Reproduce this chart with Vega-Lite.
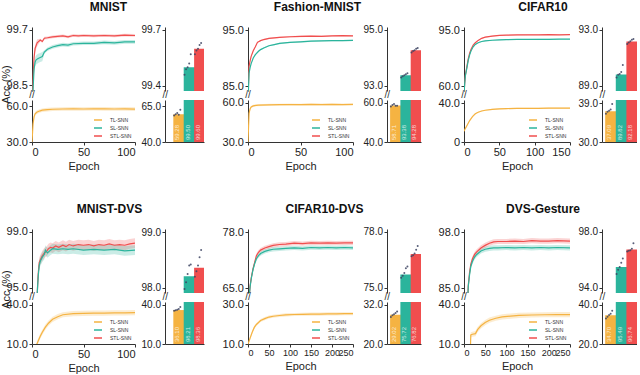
{
"$schema": "https://vega.github.io/schema/vega-lite/v6.json",
"padding": {"left": 0, "top": 0, "right": 0, "bottom": 0},
"background": "white",
"datasets": {
"curves": [
{"d":"MNIST","m":"STL-SNN","e":0,"v":98.0,"lo":97.92,"hi":98.08},
{"d":"MNIST","m":"STL-SNN","e":1,"v":98.6,"lo":98.52,"hi":98.68},
{"d":"MNIST","m":"STL-SNN","e":2,"v":99.1,"lo":99.02,"hi":99.18},
{"d":"MNIST","m":"STL-SNN","e":3,"v":99.3,"lo":99.22,"hi":99.38},
{"d":"MNIST","m":"STL-SNN","e":5,"v":99.42,"lo":99.34,"hi":99.5},
{"d":"MNIST","m":"STL-SNN","e":8,"v":99.48,"lo":99.45,"hi":99.51},
{"d":"MNIST","m":"STL-SNN","e":10,"v":99.45,"lo":99.42,"hi":99.48},
{"d":"MNIST","m":"STL-SNN","e":12,"v":99.52,"lo":99.49,"hi":99.55},
{"d":"MNIST","m":"STL-SNN","e":15,"v":99.53,"lo":99.5,"hi":99.56},
{"d":"MNIST","m":"STL-SNN","e":20,"v":99.55,"lo":99.52,"hi":99.58},
{"d":"MNIST","m":"STL-SNN","e":25,"v":99.56,"lo":99.53,"hi":99.59},
{"d":"MNIST","m":"STL-SNN","e":30,"v":99.57,"lo":99.54,"hi":99.6},
{"d":"MNIST","m":"STL-SNN","e":35,"v":99.55,"lo":99.52,"hi":99.58},
{"d":"MNIST","m":"STL-SNN","e":40,"v":99.58,"lo":99.55,"hi":99.61},
{"d":"MNIST","m":"STL-SNN","e":45,"v":99.57,"lo":99.54,"hi":99.6},
{"d":"MNIST","m":"STL-SNN","e":50,"v":99.58,"lo":99.55,"hi":99.61},
{"d":"MNIST","m":"STL-SNN","e":60,"v":99.57,"lo":99.54,"hi":99.6},
{"d":"MNIST","m":"STL-SNN","e":70,"v":99.58,"lo":99.55,"hi":99.61},
{"d":"MNIST","m":"STL-SNN","e":80,"v":99.57,"lo":99.54,"hi":99.6},
{"d":"MNIST","m":"STL-SNN","e":90,"v":99.59,"lo":99.56,"hi":99.62},
{"d":"MNIST","m":"STL-SNN","e":100,"v":99.58,"lo":99.55,"hi":99.61},
{"d":"MNIST","m":"SL-SNN","e":0,"v":97.8,"lo":97.7,"hi":97.9},
{"d":"MNIST","m":"SL-SNN","e":1,"v":98.4,"lo":98.3,"hi":98.5},
{"d":"MNIST","m":"SL-SNN","e":2,"v":98.85,"lo":98.75,"hi":98.95},
{"d":"MNIST","m":"SL-SNN","e":3,"v":99.0,"lo":98.9,"hi":99.1},
{"d":"MNIST","m":"SL-SNN","e":4,"v":99.05,"lo":98.95,"hi":99.15},
{"d":"MNIST","m":"SL-SNN","e":6,"v":99.08,"lo":98.98,"hi":99.18},
{"d":"MNIST","m":"SL-SNN","e":8,"v":99.1,"lo":99.0,"hi":99.2},
{"d":"MNIST","m":"SL-SNN","e":10,"v":99.12,"lo":99.02,"hi":99.22},
{"d":"MNIST","m":"SL-SNN","e":12,"v":99.22,"lo":99.18,"hi":99.26},
{"d":"MNIST","m":"SL-SNN","e":15,"v":99.28,"lo":99.24,"hi":99.32},
{"d":"MNIST","m":"SL-SNN","e":20,"v":99.33,"lo":99.29,"hi":99.37},
{"d":"MNIST","m":"SL-SNN","e":25,"v":99.36,"lo":99.32,"hi":99.4},
{"d":"MNIST","m":"SL-SNN","e":30,"v":99.38,"lo":99.34,"hi":99.42},
{"d":"MNIST","m":"SL-SNN","e":35,"v":99.37,"lo":99.33,"hi":99.41},
{"d":"MNIST","m":"SL-SNN","e":40,"v":99.4,"lo":99.36,"hi":99.44},
{"d":"MNIST","m":"SL-SNN","e":50,"v":99.41,"lo":99.37,"hi":99.45},
{"d":"MNIST","m":"SL-SNN","e":60,"v":99.41,"lo":99.37,"hi":99.45},
{"d":"MNIST","m":"SL-SNN","e":70,"v":99.43,"lo":99.39,"hi":99.47},
{"d":"MNIST","m":"SL-SNN","e":80,"v":99.42,"lo":99.38,"hi":99.46},
{"d":"MNIST","m":"SL-SNN","e":90,"v":99.44,"lo":99.4,"hi":99.48},
{"d":"MNIST","m":"SL-SNN","e":100,"v":99.44,"lo":99.4,"hi":99.48},
{"d":"MNIST","m":"TL-SNN","e":0,"v":30,"lo":28.5,"hi":31.5},
{"d":"MNIST","m":"TL-SNN","e":1,"v":45,"lo":43.5,"hi":46.5},
{"d":"MNIST","m":"TL-SNN","e":2,"v":51,"lo":49.5,"hi":52.5},
{"d":"MNIST","m":"TL-SNN","e":3,"v":53.5,"lo":52,"hi":55},
{"d":"MNIST","m":"TL-SNN","e":5,"v":55,"lo":53.5,"hi":56.5},
{"d":"MNIST","m":"TL-SNN","e":8,"v":56,"lo":54.5,"hi":57.5},
{"d":"MNIST","m":"TL-SNN","e":10,"v":56.5,"lo":55,"hi":58},
{"d":"MNIST","m":"TL-SNN","e":15,"v":57,"lo":55.5,"hi":58.5},
{"d":"MNIST","m":"TL-SNN","e":20,"v":57.3,"lo":55.8,"hi":58.8},
{"d":"MNIST","m":"TL-SNN","e":30,"v":57.5,"lo":56,"hi":59},
{"d":"MNIST","m":"TL-SNN","e":40,"v":57.6,"lo":56.1,"hi":59.1},
{"d":"MNIST","m":"TL-SNN","e":50,"v":57.5,"lo":56,"hi":59},
{"d":"MNIST","m":"TL-SNN","e":60,"v":57.7,"lo":56.2,"hi":59.2},
{"d":"MNIST","m":"TL-SNN","e":70,"v":57.6,"lo":56.1,"hi":59.1},
{"d":"MNIST","m":"TL-SNN","e":80,"v":57.5,"lo":56,"hi":59},
{"d":"MNIST","m":"TL-SNN","e":90,"v":57.6,"lo":56.1,"hi":59.1},
{"d":"MNIST","m":"TL-SNN","e":100,"v":57.4,"lo":55.9,"hi":58.9},
{"d":"FMNIST","m":"STL-SNN","e":0,"v":83,"lo":82.88,"hi":83.12},
{"d":"FMNIST","m":"STL-SNN","e":1,"v":88.5,"lo":88.38,"hi":88.62},
{"d":"FMNIST","m":"STL-SNN","e":2,"v":89.5,"lo":89.38,"hi":89.62},
{"d":"FMNIST","m":"STL-SNN","e":3,"v":90.3,"lo":90.18,"hi":90.42},
{"d":"FMNIST","m":"STL-SNN","e":5,"v":91.3,"lo":91.18,"hi":91.42},
{"d":"FMNIST","m":"STL-SNN","e":7,"v":92.0,"lo":91.88,"hi":92.12},
{"d":"FMNIST","m":"STL-SNN","e":9,"v":92.8,"lo":92.68,"hi":92.92},
{"d":"FMNIST","m":"STL-SNN","e":12,"v":93.1,"lo":92.98,"hi":93.22},
{"d":"FMNIST","m":"STL-SNN","e":15,"v":93.3,"lo":93.18,"hi":93.42},
{"d":"FMNIST","m":"STL-SNN","e":20,"v":93.5,"lo":93.38,"hi":93.62},
{"d":"FMNIST","m":"STL-SNN","e":25,"v":93.6,"lo":93.48,"hi":93.72},
{"d":"FMNIST","m":"STL-SNN","e":30,"v":93.7,"lo":93.58,"hi":93.82},
{"d":"FMNIST","m":"STL-SNN","e":40,"v":93.8,"lo":93.68,"hi":93.92},
{"d":"FMNIST","m":"STL-SNN","e":50,"v":93.85,"lo":93.73,"hi":93.97},
{"d":"FMNIST","m":"STL-SNN","e":60,"v":93.9,"lo":93.78,"hi":94.02},
{"d":"FMNIST","m":"STL-SNN","e":70,"v":93.88,"lo":93.76,"hi":94.0},
{"d":"FMNIST","m":"STL-SNN","e":80,"v":93.95,"lo":93.83,"hi":94.07},
{"d":"FMNIST","m":"STL-SNN","e":90,"v":94.0,"lo":93.88,"hi":94.12},
{"d":"FMNIST","m":"STL-SNN","e":100,"v":93.95,"lo":93.83,"hi":94.07},
{"d":"FMNIST","m":"SL-SNN","e":0,"v":82,"lo":81.88,"hi":82.12},
{"d":"FMNIST","m":"SL-SNN","e":1,"v":87.3,"lo":87.18,"hi":87.42},
{"d":"FMNIST","m":"SL-SNN","e":2,"v":88.3,"lo":88.18,"hi":88.42},
{"d":"FMNIST","m":"SL-SNN","e":3,"v":89.0,"lo":88.88,"hi":89.12},
{"d":"FMNIST","m":"SL-SNN","e":5,"v":90.0,"lo":89.88,"hi":90.12},
{"d":"FMNIST","m":"SL-SNN","e":7,"v":90.6,"lo":90.48,"hi":90.72},
{"d":"FMNIST","m":"SL-SNN","e":10,"v":91.2,"lo":91.08,"hi":91.32},
{"d":"FMNIST","m":"SL-SNN","e":12,"v":91.5,"lo":91.38,"hi":91.62},
{"d":"FMNIST","m":"SL-SNN","e":15,"v":91.8,"lo":91.68,"hi":91.92},
{"d":"FMNIST","m":"SL-SNN","e":20,"v":92.2,"lo":92.08,"hi":92.32},
{"d":"FMNIST","m":"SL-SNN","e":25,"v":92.4,"lo":92.28,"hi":92.52},
{"d":"FMNIST","m":"SL-SNN","e":30,"v":92.6,"lo":92.48,"hi":92.72},
{"d":"FMNIST","m":"SL-SNN","e":40,"v":92.8,"lo":92.68,"hi":92.92},
{"d":"FMNIST","m":"SL-SNN","e":50,"v":92.9,"lo":92.78,"hi":93.02},
{"d":"FMNIST","m":"SL-SNN","e":60,"v":93.0,"lo":92.88,"hi":93.12},
{"d":"FMNIST","m":"SL-SNN","e":70,"v":93.05,"lo":92.93,"hi":93.17},
{"d":"FMNIST","m":"SL-SNN","e":80,"v":93.1,"lo":92.98,"hi":93.22},
{"d":"FMNIST","m":"SL-SNN","e":90,"v":93.1,"lo":92.98,"hi":93.22},
{"d":"FMNIST","m":"SL-SNN","e":100,"v":93.15,"lo":93.03,"hi":93.27},
{"d":"FMNIST","m":"TL-SNN","e":0,"v":30,"lo":29.2,"hi":30.8},
{"d":"FMNIST","m":"TL-SNN","e":1,"v":52,"lo":51.2,"hi":52.8},
{"d":"FMNIST","m":"TL-SNN","e":2,"v":55.5,"lo":54.7,"hi":56.3},
{"d":"FMNIST","m":"TL-SNN","e":3,"v":57,"lo":56.2,"hi":57.8},
{"d":"FMNIST","m":"TL-SNN","e":5,"v":57.8,"lo":57,"hi":58.6},
{"d":"FMNIST","m":"TL-SNN","e":8,"v":58.2,"lo":57.4,"hi":59},
{"d":"FMNIST","m":"TL-SNN","e":10,"v":58.3,"lo":57.5,"hi":59.1},
{"d":"FMNIST","m":"TL-SNN","e":20,"v":58.6,"lo":57.8,"hi":59.4},
{"d":"FMNIST","m":"TL-SNN","e":30,"v":58.7,"lo":57.9,"hi":59.5},
{"d":"FMNIST","m":"TL-SNN","e":40,"v":58.8,"lo":58,"hi":59.6},
{"d":"FMNIST","m":"TL-SNN","e":50,"v":58.7,"lo":57.9,"hi":59.5},
{"d":"FMNIST","m":"TL-SNN","e":60,"v":58.9,"lo":58.1,"hi":59.7},
{"d":"FMNIST","m":"TL-SNN","e":70,"v":58.8,"lo":58,"hi":59.6},
{"d":"FMNIST","m":"TL-SNN","e":80,"v":58.9,"lo":58.1,"hi":59.7},
{"d":"FMNIST","m":"TL-SNN","e":90,"v":58.8,"lo":58,"hi":59.6},
{"d":"FMNIST","m":"TL-SNN","e":100,"v":58.9,"lo":58.1,"hi":59.7},
{"d":"CIFAR10","m":"STL-SNN","e":0,"v":55,"lo":54.7,"hi":55.3},
{"d":"CIFAR10","m":"STL-SNN","e":1,"v":62,"lo":61.7,"hi":62.3},
{"d":"CIFAR10","m":"STL-SNN","e":2,"v":67,"lo":66.7,"hi":67.3},
{"d":"CIFAR10","m":"STL-SNN","e":4,"v":72,"lo":71.7,"hi":72.3},
{"d":"CIFAR10","m":"STL-SNN","e":6,"v":77,"lo":76.7,"hi":77.3},
{"d":"CIFAR10","m":"STL-SNN","e":8,"v":80.5,"lo":80.2,"hi":80.8},
{"d":"CIFAR10","m":"STL-SNN","e":10,"v":83,"lo":82.7,"hi":83.3},
{"d":"CIFAR10","m":"STL-SNN","e":13,"v":85.5,"lo":85.2,"hi":85.8},
{"d":"CIFAR10","m":"STL-SNN","e":16,"v":87,"lo":86.7,"hi":87.3},
{"d":"CIFAR10","m":"STL-SNN","e":20,"v":88.5,"lo":88.2,"hi":88.8},
{"d":"CIFAR10","m":"STL-SNN","e":25,"v":89.8,"lo":89.5,"hi":90.1},
{"d":"CIFAR10","m":"STL-SNN","e":30,"v":90.5,"lo":90.2,"hi":90.8},
{"d":"CIFAR10","m":"STL-SNN","e":40,"v":91.2,"lo":90.9,"hi":91.5},
{"d":"CIFAR10","m":"STL-SNN","e":50,"v":91.6,"lo":91.3,"hi":91.9},
{"d":"CIFAR10","m":"STL-SNN","e":60,"v":91.8,"lo":91.5,"hi":92.1},
{"d":"CIFAR10","m":"STL-SNN","e":75,"v":91.9,"lo":91.6,"hi":92.2},
{"d":"CIFAR10","m":"STL-SNN","e":90,"v":92.0,"lo":91.7,"hi":92.3},
{"d":"CIFAR10","m":"STL-SNN","e":105,"v":92.0,"lo":91.7,"hi":92.3},
{"d":"CIFAR10","m":"STL-SNN","e":120,"v":92.1,"lo":91.8,"hi":92.4},
{"d":"CIFAR10","m":"STL-SNN","e":135,"v":92.0,"lo":91.7,"hi":92.3},
{"d":"CIFAR10","m":"STL-SNN","e":150,"v":92.1,"lo":91.8,"hi":92.4},
{"d":"CIFAR10","m":"SL-SNN","e":0,"v":55,"lo":54.7,"hi":55.3},
{"d":"CIFAR10","m":"SL-SNN","e":1,"v":61.5,"lo":61.2,"hi":61.8},
{"d":"CIFAR10","m":"SL-SNN","e":2,"v":66.5,"lo":66.2,"hi":66.8},
{"d":"CIFAR10","m":"SL-SNN","e":4,"v":71,"lo":70.7,"hi":71.3},
{"d":"CIFAR10","m":"SL-SNN","e":6,"v":76,"lo":75.7,"hi":76.3},
{"d":"CIFAR10","m":"SL-SNN","e":8,"v":79.5,"lo":79.2,"hi":79.8},
{"d":"CIFAR10","m":"SL-SNN","e":10,"v":82,"lo":81.7,"hi":82.3},
{"d":"CIFAR10","m":"SL-SNN","e":13,"v":84.5,"lo":84.2,"hi":84.8},
{"d":"CIFAR10","m":"SL-SNN","e":16,"v":86,"lo":85.7,"hi":86.3},
{"d":"CIFAR10","m":"SL-SNN","e":20,"v":87,"lo":86.7,"hi":87.3},
{"d":"CIFAR10","m":"SL-SNN","e":25,"v":87.8,"lo":87.5,"hi":88.1},
{"d":"CIFAR10","m":"SL-SNN","e":30,"v":88.2,"lo":87.9,"hi":88.5},
{"d":"CIFAR10","m":"SL-SNN","e":40,"v":88.6,"lo":88.3,"hi":88.9},
{"d":"CIFAR10","m":"SL-SNN","e":50,"v":88.8,"lo":88.5,"hi":89.1},
{"d":"CIFAR10","m":"SL-SNN","e":60,"v":89.0,"lo":88.7,"hi":89.3},
{"d":"CIFAR10","m":"SL-SNN","e":75,"v":89.1,"lo":88.8,"hi":89.4},
{"d":"CIFAR10","m":"SL-SNN","e":90,"v":89.1,"lo":88.8,"hi":89.4},
{"d":"CIFAR10","m":"SL-SNN","e":105,"v":89.2,"lo":88.9,"hi":89.5},
{"d":"CIFAR10","m":"SL-SNN","e":120,"v":89.2,"lo":88.9,"hi":89.5},
{"d":"CIFAR10","m":"SL-SNN","e":135,"v":89.3,"lo":89.0,"hi":89.6},
{"d":"CIFAR10","m":"SL-SNN","e":150,"v":89.3,"lo":89.0,"hi":89.6},
{"d":"CIFAR10","m":"TL-SNN","e":0,"v":11,"lo":10.4,"hi":11.6},
{"d":"CIFAR10","m":"TL-SNN","e":2,"v":14,"lo":13.4,"hi":14.6},
{"d":"CIFAR10","m":"TL-SNN","e":5,"v":18,"lo":17.4,"hi":18.6},
{"d":"CIFAR10","m":"TL-SNN","e":8,"v":22,"lo":21.4,"hi":22.6},
{"d":"CIFAR10","m":"TL-SNN","e":12,"v":26,"lo":25.4,"hi":26.6},
{"d":"CIFAR10","m":"TL-SNN","e":16,"v":29,"lo":28.4,"hi":29.6},
{"d":"CIFAR10","m":"TL-SNN","e":20,"v":30.5,"lo":29.9,"hi":31.1},
{"d":"CIFAR10","m":"TL-SNN","e":25,"v":31.8,"lo":31.2,"hi":32.4},
{"d":"CIFAR10","m":"TL-SNN","e":30,"v":32.6,"lo":32.0,"hi":33.2},
{"d":"CIFAR10","m":"TL-SNN","e":40,"v":33.5,"lo":32.9,"hi":34.1},
{"d":"CIFAR10","m":"TL-SNN","e":50,"v":34.0,"lo":33.4,"hi":34.6},
{"d":"CIFAR10","m":"TL-SNN","e":60,"v":34.3,"lo":33.7,"hi":34.9},
{"d":"CIFAR10","m":"TL-SNN","e":75,"v":34.5,"lo":33.9,"hi":35.1},
{"d":"CIFAR10","m":"TL-SNN","e":90,"v":34.6,"lo":34.0,"hi":35.2},
{"d":"CIFAR10","m":"TL-SNN","e":105,"v":34.6,"lo":34.0,"hi":35.2},
{"d":"CIFAR10","m":"TL-SNN","e":120,"v":34.7,"lo":34.1,"hi":35.3},
{"d":"CIFAR10","m":"TL-SNN","e":135,"v":34.7,"lo":34.1,"hi":35.3},
{"d":"CIFAR10","m":"TL-SNN","e":150,"v":34.7,"lo":34.1,"hi":35.3},
{"d":"MDVS","m":"STL-SNN","e":0,"v":92,"lo":91.65,"hi":92.35},
{"d":"MDVS","m":"STL-SNN","e":3,"v":93,"lo":92.65,"hi":93.35},
{"d":"MDVS","m":"STL-SNN","e":5,"v":94.5,"lo":94.15,"hi":94.85},
{"d":"MDVS","m":"STL-SNN","e":6,"v":96.0,"lo":95.65,"hi":96.35},
{"d":"MDVS","m":"STL-SNN","e":7,"v":96.8,"lo":96.45,"hi":97.15},
{"d":"MDVS","m":"STL-SNN","e":8,"v":97.0,"lo":96.65,"hi":97.35},
{"d":"MDVS","m":"STL-SNN","e":10,"v":97.3,"lo":96.95,"hi":97.65},
{"d":"MDVS","m":"STL-SNN","e":12,"v":97.5,"lo":97.15,"hi":97.85},
{"d":"MDVS","m":"STL-SNN","e":14,"v":97.6,"lo":97.25,"hi":97.95},
{"d":"MDVS","m":"STL-SNN","e":16,"v":97.8,"lo":97.45,"hi":98.15},
{"d":"MDVS","m":"STL-SNN","e":18,"v":97.9,"lo":97.55,"hi":98.25},
{"d":"MDVS","m":"STL-SNN","e":20,"v":97.85,"lo":97.5,"hi":98.2},
{"d":"MDVS","m":"STL-SNN","e":23,"v":98.0,"lo":97.65,"hi":98.35},
{"d":"MDVS","m":"STL-SNN","e":26,"v":97.9,"lo":97.55,"hi":98.25},
{"d":"MDVS","m":"STL-SNN","e":30,"v":98.05,"lo":97.7,"hi":98.4},
{"d":"MDVS","m":"STL-SNN","e":33,"v":97.95,"lo":97.6,"hi":98.3},
{"d":"MDVS","m":"STL-SNN","e":36,"v":98.1,"lo":97.75,"hi":98.45},
{"d":"MDVS","m":"STL-SNN","e":40,"v":98.0,"lo":97.65,"hi":98.35},
{"d":"MDVS","m":"STL-SNN","e":45,"v":98.1,"lo":97.75,"hi":98.45},
{"d":"MDVS","m":"STL-SNN","e":50,"v":98.05,"lo":97.7,"hi":98.4},
{"d":"MDVS","m":"STL-SNN","e":55,"v":98.1,"lo":97.75,"hi":98.45},
{"d":"MDVS","m":"STL-SNN","e":60,"v":98.0,"lo":97.65,"hi":98.35},
{"d":"MDVS","m":"STL-SNN","e":65,"v":98.1,"lo":97.75,"hi":98.45},
{"d":"MDVS","m":"STL-SNN","e":70,"v":98.05,"lo":97.7,"hi":98.4},
{"d":"MDVS","m":"STL-SNN","e":75,"v":98.15,"lo":97.8,"hi":98.5},
{"d":"MDVS","m":"STL-SNN","e":80,"v":98.05,"lo":97.7,"hi":98.4},
{"d":"MDVS","m":"STL-SNN","e":85,"v":98.1,"lo":97.75,"hi":98.45},
{"d":"MDVS","m":"STL-SNN","e":90,"v":98.05,"lo":97.7,"hi":98.4},
{"d":"MDVS","m":"STL-SNN","e":95,"v":98.15,"lo":97.8,"hi":98.5},
{"d":"MDVS","m":"STL-SNN","e":100,"v":98.2,"lo":97.85,"hi":98.55},
{"d":"MDVS","m":"SL-SNN","e":0,"v":92,"lo":91.65,"hi":92.35},
{"d":"MDVS","m":"SL-SNN","e":3,"v":93,"lo":92.65,"hi":93.35},
{"d":"MDVS","m":"SL-SNN","e":5,"v":94.5,"lo":94.15,"hi":94.85},
{"d":"MDVS","m":"SL-SNN","e":6,"v":95.8,"lo":95.45,"hi":96.15},
{"d":"MDVS","m":"SL-SNN","e":7,"v":96.6,"lo":96.25,"hi":96.95},
{"d":"MDVS","m":"SL-SNN","e":8,"v":96.9,"lo":96.55,"hi":97.25},
{"d":"MDVS","m":"SL-SNN","e":10,"v":97.2,"lo":96.85,"hi":97.55},
{"d":"MDVS","m":"SL-SNN","e":12,"v":97.4,"lo":97.05,"hi":97.75},
{"d":"MDVS","m":"SL-SNN","e":13,"v":97.7,"lo":97.35,"hi":98.05},
{"d":"MDVS","m":"SL-SNN","e":15,"v":97.5,"lo":97.15,"hi":97.85},
{"d":"MDVS","m":"SL-SNN","e":18,"v":97.7,"lo":97.35,"hi":98.05},
{"d":"MDVS","m":"SL-SNN","e":20,"v":97.8,"lo":97.45,"hi":98.15},
{"d":"MDVS","m":"SL-SNN","e":25,"v":97.75,"lo":97.4,"hi":98.1},
{"d":"MDVS","m":"SL-SNN","e":30,"v":97.8,"lo":97.45,"hi":98.15},
{"d":"MDVS","m":"SL-SNN","e":35,"v":97.75,"lo":97.4,"hi":98.1},
{"d":"MDVS","m":"SL-SNN","e":40,"v":97.8,"lo":97.45,"hi":98.15},
{"d":"MDVS","m":"SL-SNN","e":50,"v":97.7,"lo":97.35,"hi":98.05},
{"d":"MDVS","m":"SL-SNN","e":60,"v":97.75,"lo":97.4,"hi":98.1},
{"d":"MDVS","m":"SL-SNN","e":70,"v":97.7,"lo":97.35,"hi":98.05},
{"d":"MDVS","m":"SL-SNN","e":80,"v":97.75,"lo":97.4,"hi":98.1},
{"d":"MDVS","m":"SL-SNN","e":90,"v":97.65,"lo":97.3,"hi":98.0},
{"d":"MDVS","m":"SL-SNN","e":100,"v":97.7,"lo":97.35,"hi":98.05},
{"d":"MDVS","m":"TL-SNN","e":0,"v":5,"lo":3,"hi":7},
{"d":"MDVS","m":"TL-SNN","e":4,"v":8,"lo":6,"hi":10},
{"d":"MDVS","m":"TL-SNN","e":5,"v":10.5,"lo":8.5,"hi":12.5},
{"d":"MDVS","m":"TL-SNN","e":8,"v":16,"lo":14,"hi":18},
{"d":"MDVS","m":"TL-SNN","e":10,"v":19,"lo":17,"hi":21},
{"d":"MDVS","m":"TL-SNN","e":13,"v":23,"lo":21,"hi":25},
{"d":"MDVS","m":"TL-SNN","e":16,"v":26,"lo":24,"hi":28},
{"d":"MDVS","m":"TL-SNN","e":20,"v":29,"lo":27,"hi":31},
{"d":"MDVS","m":"TL-SNN","e":25,"v":31,"lo":29,"hi":33},
{"d":"MDVS","m":"TL-SNN","e":30,"v":32.5,"lo":30.5,"hi":34.5},
{"d":"MDVS","m":"TL-SNN","e":40,"v":33.3,"lo":31.3,"hi":35.3},
{"d":"MDVS","m":"TL-SNN","e":50,"v":33.6,"lo":31.6,"hi":35.6},
{"d":"MDVS","m":"TL-SNN","e":60,"v":33.8,"lo":31.8,"hi":35.8},
{"d":"MDVS","m":"TL-SNN","e":70,"v":33.8,"lo":31.8,"hi":35.8},
{"d":"MDVS","m":"TL-SNN","e":80,"v":34.0,"lo":32.0,"hi":36.0},
{"d":"MDVS","m":"TL-SNN","e":90,"v":33.9,"lo":31.9,"hi":35.9},
{"d":"MDVS","m":"TL-SNN","e":100,"v":34.1,"lo":32.1,"hi":36.1},
{"d":"CDVS","m":"STL-SNN","e":0,"v":60,"lo":59.5,"hi":60.5},
{"d":"CDVS","m":"STL-SNN","e":3,"v":63,"lo":62.5,"hi":63.5},
{"d":"CDVS","m":"STL-SNN","e":5,"v":65.5,"lo":65,"hi":66},
{"d":"CDVS","m":"STL-SNN","e":8,"v":67.5,"lo":67,"hi":68},
{"d":"CDVS","m":"STL-SNN","e":12,"v":69.5,"lo":69,"hi":70},
{"d":"CDVS","m":"STL-SNN","e":16,"v":71,"lo":70.5,"hi":71.5},
{"d":"CDVS","m":"STL-SNN","e":20,"v":72.5,"lo":72,"hi":73},
{"d":"CDVS","m":"STL-SNN","e":25,"v":73.3,"lo":72.8,"hi":73.8},
{"d":"CDVS","m":"STL-SNN","e":30,"v":73.8,"lo":73.3,"hi":74.3},
{"d":"CDVS","m":"STL-SNN","e":40,"v":74.3,"lo":73.8,"hi":74.8},
{"d":"CDVS","m":"STL-SNN","e":50,"v":74.6,"lo":74.1,"hi":75.1},
{"d":"CDVS","m":"STL-SNN","e":60,"v":74.9,"lo":74.4,"hi":75.4},
{"d":"CDVS","m":"STL-SNN","e":75,"v":75.1,"lo":74.6,"hi":75.6},
{"d":"CDVS","m":"STL-SNN","e":90,"v":75.2,"lo":74.7,"hi":75.7},
{"d":"CDVS","m":"STL-SNN","e":110,"v":75.4,"lo":74.9,"hi":75.9},
{"d":"CDVS","m":"STL-SNN","e":130,"v":75.3,"lo":74.8,"hi":75.8},
{"d":"CDVS","m":"STL-SNN","e":150,"v":75.5,"lo":75.0,"hi":76.0},
{"d":"CDVS","m":"STL-SNN","e":170,"v":75.4,"lo":74.9,"hi":75.9},
{"d":"CDVS","m":"STL-SNN","e":190,"v":75.5,"lo":75.0,"hi":76.0},
{"d":"CDVS","m":"STL-SNN","e":210,"v":75.4,"lo":74.9,"hi":75.9},
{"d":"CDVS","m":"STL-SNN","e":230,"v":75.5,"lo":75.0,"hi":76.0},
{"d":"CDVS","m":"STL-SNN","e":250,"v":75.5,"lo":75.0,"hi":76.0},
{"d":"CDVS","m":"SL-SNN","e":0,"v":60,"lo":59.5,"hi":60.5},
{"d":"CDVS","m":"SL-SNN","e":3,"v":63,"lo":62.5,"hi":63.5},
{"d":"CDVS","m":"SL-SNN","e":5,"v":65.3,"lo":64.8,"hi":65.8},
{"d":"CDVS","m":"SL-SNN","e":8,"v":67.3,"lo":66.8,"hi":67.8},
{"d":"CDVS","m":"SL-SNN","e":12,"v":69.3,"lo":68.8,"hi":69.8},
{"d":"CDVS","m":"SL-SNN","e":16,"v":70.7,"lo":70.2,"hi":71.2},
{"d":"CDVS","m":"SL-SNN","e":20,"v":71.8,"lo":71.3,"hi":72.3},
{"d":"CDVS","m":"SL-SNN","e":25,"v":72.5,"lo":72.0,"hi":73.0},
{"d":"CDVS","m":"SL-SNN","e":30,"v":73.0,"lo":72.5,"hi":73.5},
{"d":"CDVS","m":"SL-SNN","e":40,"v":73.5,"lo":73.0,"hi":74.0},
{"d":"CDVS","m":"SL-SNN","e":50,"v":73.8,"lo":73.3,"hi":74.3},
{"d":"CDVS","m":"SL-SNN","e":60,"v":74.0,"lo":73.5,"hi":74.5},
{"d":"CDVS","m":"SL-SNN","e":75,"v":74.1,"lo":73.6,"hi":74.6},
{"d":"CDVS","m":"SL-SNN","e":90,"v":74.2,"lo":73.7,"hi":74.7},
{"d":"CDVS","m":"SL-SNN","e":110,"v":74.3,"lo":73.8,"hi":74.8},
{"d":"CDVS","m":"SL-SNN","e":130,"v":74.2,"lo":73.7,"hi":74.7},
{"d":"CDVS","m":"SL-SNN","e":150,"v":74.4,"lo":73.9,"hi":74.9},
{"d":"CDVS","m":"SL-SNN","e":170,"v":74.3,"lo":73.8,"hi":74.8},
{"d":"CDVS","m":"SL-SNN","e":190,"v":74.4,"lo":73.9,"hi":74.9},
{"d":"CDVS","m":"SL-SNN","e":210,"v":74.3,"lo":73.8,"hi":74.8},
{"d":"CDVS","m":"SL-SNN","e":230,"v":74.4,"lo":73.9,"hi":74.9},
{"d":"CDVS","m":"SL-SNN","e":250,"v":74.3,"lo":73.8,"hi":74.8},
{"d":"CDVS","m":"TL-SNN","e":0,"v":10,"lo":9.2,"hi":10.8},
{"d":"CDVS","m":"TL-SNN","e":5,"v":13,"lo":12.2,"hi":13.8},
{"d":"CDVS","m":"TL-SNN","e":10,"v":16,"lo":15.2,"hi":16.8},
{"d":"CDVS","m":"TL-SNN","e":15,"v":18.5,"lo":17.7,"hi":19.3},
{"d":"CDVS","m":"TL-SNN","e":20,"v":20,"lo":19.2,"hi":20.8},
{"d":"CDVS","m":"TL-SNN","e":30,"v":22,"lo":21.2,"hi":22.8},
{"d":"CDVS","m":"TL-SNN","e":40,"v":23,"lo":22.2,"hi":23.8},
{"d":"CDVS","m":"TL-SNN","e":50,"v":23.8,"lo":23.0,"hi":24.6},
{"d":"CDVS","m":"TL-SNN","e":60,"v":24.2,"lo":23.4,"hi":25.0},
{"d":"CDVS","m":"TL-SNN","e":75,"v":24.6,"lo":23.8,"hi":25.4},
{"d":"CDVS","m":"TL-SNN","e":90,"v":24.9,"lo":24.1,"hi":25.7},
{"d":"CDVS","m":"TL-SNN","e":110,"v":25.1,"lo":24.3,"hi":25.9},
{"d":"CDVS","m":"TL-SNN","e":130,"v":25.2,"lo":24.4,"hi":26.0},
{"d":"CDVS","m":"TL-SNN","e":150,"v":25.3,"lo":24.5,"hi":26.1},
{"d":"CDVS","m":"TL-SNN","e":170,"v":25.3,"lo":24.5,"hi":26.1},
{"d":"CDVS","m":"TL-SNN","e":190,"v":25.4,"lo":24.6,"hi":26.2},
{"d":"CDVS","m":"TL-SNN","e":210,"v":25.4,"lo":24.6,"hi":26.2},
{"d":"CDVS","m":"TL-SNN","e":230,"v":25.5,"lo":24.7,"hi":26.3},
{"d":"CDVS","m":"TL-SNN","e":250,"v":25.5,"lo":24.7,"hi":26.3},
{"d":"GEST","m":"STL-SNN","e":0,"v":75,"lo":74.4,"hi":75.6},
{"d":"GEST","m":"STL-SNN","e":8,"v":80,"lo":79.4,"hi":80.6},
{"d":"GEST","m":"STL-SNN","e":10,"v":85.5,"lo":84.9,"hi":86.1},
{"d":"GEST","m":"STL-SNN","e":13,"v":88.5,"lo":87.9,"hi":89.1},
{"d":"GEST","m":"STL-SNN","e":16,"v":90.5,"lo":89.9,"hi":91.1},
{"d":"GEST","m":"STL-SNN","e":20,"v":91.8,"lo":91.2,"hi":92.4},
{"d":"GEST","m":"STL-SNN","e":25,"v":92.8,"lo":92.2,"hi":93.4},
{"d":"GEST","m":"STL-SNN","e":30,"v":93.4,"lo":92.8,"hi":94.0},
{"d":"GEST","m":"STL-SNN","e":40,"v":94.3,"lo":93.7,"hi":94.9},
{"d":"GEST","m":"STL-SNN","e":50,"v":94.9,"lo":94.3,"hi":95.5},
{"d":"GEST","m":"STL-SNN","e":60,"v":95.4,"lo":94.8,"hi":96.0},
{"d":"GEST","m":"STL-SNN","e":70,"v":95.7,"lo":95.1,"hi":96.3},
{"d":"GEST","m":"STL-SNN","e":80,"v":95.8,"lo":95.2,"hi":96.4},
{"d":"GEST","m":"STL-SNN","e":100,"v":95.8,"lo":95.2,"hi":96.4},
{"d":"GEST","m":"STL-SNN","e":120,"v":95.9,"lo":95.3,"hi":96.5},
{"d":"GEST","m":"STL-SNN","e":140,"v":95.8,"lo":95.2,"hi":96.4},
{"d":"GEST","m":"STL-SNN","e":160,"v":96.0,"lo":95.4,"hi":96.6},
{"d":"GEST","m":"STL-SNN","e":180,"v":95.9,"lo":95.3,"hi":96.5},
{"d":"GEST","m":"STL-SNN","e":200,"v":95.9,"lo":95.3,"hi":96.5},
{"d":"GEST","m":"STL-SNN","e":220,"v":96.0,"lo":95.4,"hi":96.6},
{"d":"GEST","m":"STL-SNN","e":250,"v":95.9,"lo":95.3,"hi":96.5},
{"d":"GEST","m":"SL-SNN","e":0,"v":75,"lo":74.4,"hi":75.6},
{"d":"GEST","m":"SL-SNN","e":8,"v":80,"lo":79.4,"hi":80.6},
{"d":"GEST","m":"SL-SNN","e":10,"v":85.3,"lo":84.7,"hi":85.9},
{"d":"GEST","m":"SL-SNN","e":13,"v":88,"lo":87.4,"hi":88.6},
{"d":"GEST","m":"SL-SNN","e":16,"v":90,"lo":89.4,"hi":90.6},
{"d":"GEST","m":"SL-SNN","e":20,"v":91.2,"lo":90.6,"hi":91.8},
{"d":"GEST","m":"SL-SNN","e":25,"v":92.2,"lo":91.6,"hi":92.8},
{"d":"GEST","m":"SL-SNN","e":30,"v":92.8,"lo":92.2,"hi":93.4},
{"d":"GEST","m":"SL-SNN","e":40,"v":93.6,"lo":93.0,"hi":94.2},
{"d":"GEST","m":"SL-SNN","e":50,"v":94.0,"lo":93.4,"hi":94.6},
{"d":"GEST","m":"SL-SNN","e":60,"v":94.2,"lo":93.6,"hi":94.8},
{"d":"GEST","m":"SL-SNN","e":70,"v":94.3,"lo":93.7,"hi":94.9},
{"d":"GEST","m":"SL-SNN","e":80,"v":94.3,"lo":93.7,"hi":94.9},
{"d":"GEST","m":"SL-SNN","e":100,"v":94.4,"lo":93.8,"hi":95.0},
{"d":"GEST","m":"SL-SNN","e":120,"v":94.3,"lo":93.7,"hi":94.9},
{"d":"GEST","m":"SL-SNN","e":140,"v":94.4,"lo":93.8,"hi":95.0},
{"d":"GEST","m":"SL-SNN","e":160,"v":94.3,"lo":93.7,"hi":94.9},
{"d":"GEST","m":"SL-SNN","e":180,"v":94.4,"lo":93.8,"hi":95.0},
{"d":"GEST","m":"SL-SNN","e":200,"v":94.3,"lo":93.7,"hi":94.9},
{"d":"GEST","m":"SL-SNN","e":220,"v":94.4,"lo":93.8,"hi":95.0},
{"d":"GEST","m":"SL-SNN","e":250,"v":94.3,"lo":93.7,"hi":94.9},
{"d":"GEST","m":"TL-SNN","e":0,"v":4,"lo":2,"hi":6},
{"d":"GEST","m":"TL-SNN","e":15,"v":5,"lo":3,"hi":7},
{"d":"GEST","m":"TL-SNN","e":16,"v":17,"lo":15,"hi":19},
{"d":"GEST","m":"TL-SNN","e":20,"v":17.5,"lo":15.5,"hi":19.5},
{"d":"GEST","m":"TL-SNN","e":27,"v":18,"lo":16,"hi":20},
{"d":"GEST","m":"TL-SNN","e":32,"v":21,"lo":19,"hi":23},
{"d":"GEST","m":"TL-SNN","e":40,"v":24,"lo":22,"hi":26},
{"d":"GEST","m":"TL-SNN","e":50,"v":26.5,"lo":24.5,"hi":28.5},
{"d":"GEST","m":"TL-SNN","e":60,"v":28.3,"lo":26.3,"hi":30.3},
{"d":"GEST","m":"TL-SNN","e":75,"v":29.8,"lo":27.8,"hi":31.8},
{"d":"GEST","m":"TL-SNN","e":90,"v":30.8,"lo":28.8,"hi":32.8},
{"d":"GEST","m":"TL-SNN","e":110,"v":31.5,"lo":29.5,"hi":33.5},
{"d":"GEST","m":"TL-SNN","e":130,"v":32.0,"lo":30.0,"hi":34.0},
{"d":"GEST","m":"TL-SNN","e":160,"v":32.3,"lo":30.3,"hi":34.3},
{"d":"GEST","m":"TL-SNN","e":190,"v":32.5,"lo":30.5,"hi":34.5},
{"d":"GEST","m":"TL-SNN","e":220,"v":32.6,"lo":30.6,"hi":34.6},
{"d":"GEST","m":"TL-SNN","e":250,"v":32.6,"lo":30.6,"hi":34.6}
],
"bars": [
{"d":"MNIST","m":"TL-SNN","v":59.28},{"d":"MNIST","m":"SL-SNN","v":99.50},{"d":"MNIST","m":"STL-SNN","v":99.60},
{"d":"FMNIST","m":"TL-SNN","v":58.71},{"d":"FMNIST","m":"SL-SNN","v":93.38},{"d":"FMNIST","m":"STL-SNN","v":94.28},
{"d":"CIFAR10","m":"TL-SNN","v":37.09},{"d":"CIFAR10","m":"SL-SNN","v":89.82},{"d":"CIFAR10","m":"STL-SNN","v":92.18},
{"d":"MDVS","m":"TL-SNN","v":36.10},{"d":"MDVS","m":"SL-SNN","v":98.21},{"d":"MDVS","m":"STL-SNN","v":98.36},
{"d":"CDVS","m":"TL-SNN","v":29.02},{"d":"CDVS","m":"SL-SNN","v":75.72},{"d":"CDVS","m":"STL-SNN","v":76.82},
{"d":"GEST","m":"TL-SNN","v":34.70},{"d":"GEST","m":"SL-SNN","v":95.49},{"d":"GEST","m":"STL-SNN","v":96.74}
],
"runs": [
{"d":"MNIST","m":"TL-SNN","r":1,"v":58.5},{"d":"MNIST","m":"TL-SNN","r":2,"v":59.3},{"d":"MNIST","m":"TL-SNN","r":3,"v":60.1},{"d":"MNIST","m":"TL-SNN","r":4,"v":59.0},{"d":"MNIST","m":"TL-SNN","r":5,"v":62.5},
{"d":"MNIST","m":"SL-SNN","r":1,"v":99.46},{"d":"MNIST","m":"SL-SNN","r":2,"v":99.49},{"d":"MNIST","m":"SL-SNN","r":3,"v":99.5},{"d":"MNIST","m":"SL-SNN","r":4,"v":99.52},{"d":"MNIST","m":"SL-SNN","r":5,"v":99.57},
{"d":"MNIST","m":"STL-SNN","r":1,"v":99.57},{"d":"MNIST","m":"STL-SNN","r":2,"v":99.59},{"d":"MNIST","m":"STL-SNN","r":3,"v":99.6},{"d":"MNIST","m":"STL-SNN","r":4,"v":99.62},{"d":"MNIST","m":"STL-SNN","r":5,"v":99.63},
{"d":"FMNIST","m":"TL-SNN","r":1,"v":58.2},{"d":"FMNIST","m":"TL-SNN","r":2,"v":58.9},{"d":"FMNIST","m":"TL-SNN","r":3,"v":59.4},{"d":"FMNIST","m":"TL-SNN","r":4,"v":58.5},{"d":"FMNIST","m":"TL-SNN","r":5,"v":58.6},
{"d":"FMNIST","m":"SL-SNN","r":1,"v":93.3},{"d":"FMNIST","m":"SL-SNN","r":2,"v":93.35},{"d":"FMNIST","m":"SL-SNN","r":3,"v":93.38},{"d":"FMNIST","m":"SL-SNN","r":4,"v":93.42},{"d":"FMNIST","m":"SL-SNN","r":5,"v":93.45},
{"d":"FMNIST","m":"STL-SNN","r":1,"v":94.2},{"d":"FMNIST","m":"STL-SNN","r":2,"v":94.25},{"d":"FMNIST","m":"STL-SNN","r":3,"v":94.28},{"d":"FMNIST","m":"STL-SNN","r":4,"v":94.33},{"d":"FMNIST","m":"STL-SNN","r":5,"v":94.36},
{"d":"CIFAR10","m":"TL-SNN","r":1,"v":36.5},{"d":"CIFAR10","m":"TL-SNN","r":2,"v":37.0},{"d":"CIFAR10","m":"TL-SNN","r":3,"v":37.2},{"d":"CIFAR10","m":"TL-SNN","r":4,"v":37.5},{"d":"CIFAR10","m":"TL-SNN","r":5,"v":38.8},
{"d":"CIFAR10","m":"SL-SNN","r":1,"v":89.6},{"d":"CIFAR10","m":"SL-SNN","r":2,"v":89.8},{"d":"CIFAR10","m":"SL-SNN","r":3,"v":89.85},{"d":"CIFAR10","m":"SL-SNN","r":4,"v":90.0},{"d":"CIFAR10","m":"SL-SNN","r":5,"v":90.5},
{"d":"CIFAR10","m":"STL-SNN","r":1,"v":92.0},{"d":"CIFAR10","m":"STL-SNN","r":2,"v":92.1},{"d":"CIFAR10","m":"STL-SNN","r":3,"v":92.2},{"d":"CIFAR10","m":"STL-SNN","r":4,"v":92.3},{"d":"CIFAR10","m":"STL-SNN","r":5,"v":92.35},
{"d":"MDVS","m":"TL-SNN","r":1,"v":35.5},{"d":"MDVS","m":"TL-SNN","r":2,"v":36.0},{"d":"MDVS","m":"TL-SNN","r":3,"v":36.3},{"d":"MDVS","m":"TL-SNN","r":4,"v":37.0},{"d":"MDVS","m":"TL-SNN","r":5,"v":38.5},
{"d":"MDVS","m":"SL-SNN","r":1,"v":97.98},{"d":"MDVS","m":"SL-SNN","r":2,"v":98.1},{"d":"MDVS","m":"SL-SNN","r":3,"v":98.25},{"d":"MDVS","m":"SL-SNN","r":4,"v":98.4},{"d":"MDVS","m":"SL-SNN","r":5,"v":98.42},
{"d":"MDVS","m":"STL-SNN","r":1,"v":98.2},{"d":"MDVS","m":"STL-SNN","r":2,"v":98.3},{"d":"MDVS","m":"STL-SNN","r":3,"v":98.4},{"d":"MDVS","m":"STL-SNN","r":4,"v":98.55},{"d":"MDVS","m":"STL-SNN","r":5,"v":98.68},
{"d":"CDVS","m":"TL-SNN","r":1,"v":28.3},{"d":"CDVS","m":"TL-SNN","r":2,"v":28.8},{"d":"CDVS","m":"TL-SNN","r":3,"v":29.1},{"d":"CDVS","m":"TL-SNN","r":4,"v":29.5},{"d":"CDVS","m":"TL-SNN","r":5,"v":30.0},
{"d":"CDVS","m":"SL-SNN","r":1,"v":75.55},{"d":"CDVS","m":"SL-SNN","r":2,"v":75.65},{"d":"CDVS","m":"SL-SNN","r":3,"v":75.8},{"d":"CDVS","m":"SL-SNN","r":4,"v":76.05},{"d":"CDVS","m":"SL-SNN","r":5,"v":76.15},
{"d":"CDVS","m":"STL-SNN","r":1,"v":76.7},{"d":"CDVS","m":"STL-SNN","r":2,"v":76.75},{"d":"CDVS","m":"STL-SNN","r":3,"v":76.85},{"d":"CDVS","m":"STL-SNN","r":4,"v":77.05},{"d":"CDVS","m":"STL-SNN","r":5,"v":77.25},
{"d":"GEST","m":"TL-SNN","r":1,"v":33.0},{"d":"GEST","m":"TL-SNN","r":2,"v":34.0},{"d":"GEST","m":"TL-SNN","r":3,"v":34.8},{"d":"GEST","m":"TL-SNN","r":4,"v":35.5},{"d":"GEST","m":"TL-SNN","r":5,"v":37.0},
{"d":"GEST","m":"SL-SNN","r":1,"v":95.0},{"d":"GEST","m":"SL-SNN","r":2,"v":95.3},{"d":"GEST","m":"SL-SNN","r":3,"v":95.5},{"d":"GEST","m":"SL-SNN","r":4,"v":95.8},{"d":"GEST","m":"SL-SNN","r":5,"v":96.1},
{"d":"GEST","m":"STL-SNN","r":1,"v":96.6},{"d":"GEST","m":"STL-SNN","r":2,"v":96.65},{"d":"GEST","m":"STL-SNN","r":3,"v":96.7},{"d":"GEST","m":"STL-SNN","r":4,"v":96.8},{"d":"GEST","m":"STL-SNN","r":5,"v":97.2}
]
},
"columns": 11,
"bounds": "flush",
"spacing": {"row": 9, "column": 0},
"resolve": {"scale": {"x": "independent", "y": "independent"}, "legend": {"color": "independent"}},
"concat": [
{"width":103,"height":64,"title":{"text":"MNIST","dx":25},"data":{"name":"curves"},"transform":[{"filter":{"field":"d","equal":"MNIST"}},{"filter":{"field":"m","oneOf":["SL-SNN","STL-SNN"]}}],
 "layer":[
  {"mark":{"type":"area","opacity":0.25,"clip":true},"encoding":{"x":{"field":"e","type":"quantitative","scale":{"domain":[0,100],"nice":false},"axis":null},"y":{"field":"lo","type":"quantitative","scale":{"domain":[98.37,99.765],"nice":false,"zero":false},"axis":{"values":[98.5,99.7],"format":".1f","title":"Acc (%)","titleX":-23,"titleY":57,"titleAngle":270,"titleAlign":"center","titleBaseline":"alphabetic"}},"y2":{"field":"hi"},"fill":{"field":"m","type":"nominal","scale":{"domain":["TL-SNN","SL-SNN","STL-SNN"],"range":["#F5B342","#2BB49C","#F04E4E"]},"legend":null}}},
  {"mark":{"type":"line","strokeWidth":1.2,"clip":true},"encoding":{"x":{"field":"e","type":"quantitative","axis":null},"y":{"field":"v","type":"quantitative","axis":{"values":[98.5,99.7],"format":".1f","title":"Acc (%)","titleX":-23,"titleY":57,"titleAngle":270,"titleAlign":"center","titleBaseline":"alphabetic"}},"color":{"field":"m","type":"nominal","scale":{"domain":["TL-SNN","SL-SNN","STL-SNN"],"range":["#F5B342","#2BB49C","#F04E4E"]},"legend":null}}}
 ]},
{"width":30,"height":1,"data":{"values":[]},"mark":"point"},
{"width":39,"height":64,"data":{"name":"bars"},"transform":[{"filter":{"field":"d","equal":"MNIST"}}],
 "layer":[
  {"mark":{"type":"bar","clip":true},"encoding":{"x":{"field":"m","type":"nominal","scale":{"domain":["TL-SNN","SL-SNN","STL-SNN"],"paddingInner":0.25,"paddingOuter":0.5,"align":0.8},"axis":null},"y":{"field":"v","type":"quantitative","scale":{"domain":[99.373,99.716],"nice":false,"zero":false},"axis":{"values":[99.4,99.7],"format":".1f","title":null,"labelFontSize":10}},"color":{"field":"m","type":"nominal","scale":{"domain":["TL-SNN","SL-SNN","STL-SNN"],"range":["#F5B342","#2BB49C","#F04E4E"]},"legend":null}}},
  {"data":{"name":"runs"},"transform":[{"filter":{"field":"d","equal":"MNIST"}}],"mark":{"type":"circle","size":4,"color":"#3c4361","opacity":0.85,"clip":true},"encoding":{"x":{"field":"m","type":"nominal","axis":null},"xOffset":{"field":"r","type":"nominal"},"y":{"field":"v","type":"quantitative","axis":{"values":[99.4,99.7],"format":".1f","title":null,"labelFontSize":10}}}}
 ]},
{"width":44,"height":1,"data":{"values":[]},"mark":"point"},
{"width":105,"height":64,"title":{"text":"Fashion-MNIST","dx":17},"data":{"name":"curves"},"transform":[{"filter":{"field":"d","equal":"FMNIST"}},{"filter":{"field":"m","oneOf":["SL-SNN","STL-SNN"]}}],
 "layer":[
  {"mark":{"type":"area","opacity":0.25,"clip":true},"encoding":{"x":{"field":"e","type":"quantitative","scale":{"domain":[0,100],"nice":false},"axis":null},"y":{"field":"lo","type":"quantitative","scale":{"domain":[84.11,95.54],"nice":false,"zero":false},"axis":{"values":[85,95],"format":".1f","title":null}},"y2":{"field":"hi"},"fill":{"field":"m","type":"nominal","scale":{"domain":["TL-SNN","SL-SNN","STL-SNN"],"range":["#F5B342","#2BB49C","#F04E4E"]},"legend":null}}},
  {"mark":{"type":"line","strokeWidth":1.2,"clip":true},"encoding":{"x":{"field":"e","type":"quantitative","axis":null},"y":{"field":"v","type":"quantitative","axis":{"values":[85,95],"format":".1f","title":null}},"color":{"field":"m","type":"nominal","scale":{"domain":["TL-SNN","SL-SNN","STL-SNN"],"range":["#F5B342","#2BB49C","#F04E4E"]},"legend":null}}}
 ]},
{"width":34,"height":1,"data":{"values":[]},"mark":"point"},
{"width":34,"height":64,"data":{"name":"bars"},"transform":[{"filter":{"field":"d","equal":"FMNIST"}}],
 "layer":[
  {"mark":{"type":"bar","clip":true},"encoding":{"x":{"field":"m","type":"nominal","scale":{"domain":["TL-SNN","SL-SNN","STL-SNN"],"paddingInner":0.3,"paddingOuter":0.3,"align":0.5},"axis":null},"y":{"field":"v","type":"quantitative","scale":{"domain":[92.82,95.107],"nice":false,"zero":false},"axis":{"values":[93,95],"format":".1f","title":null,"labelFontSize":10}},"color":{"field":"m","type":"nominal","scale":{"domain":["TL-SNN","SL-SNN","STL-SNN"],"range":["#F5B342","#2BB49C","#F04E4E"]},"legend":null}}},
  {"data":{"name":"runs"},"transform":[{"filter":{"field":"d","equal":"FMNIST"}}],"mark":{"type":"circle","size":4,"color":"#3c4361","opacity":0.85,"clip":true},"encoding":{"x":{"field":"m","type":"nominal","axis":null},"xOffset":{"field":"r","type":"nominal"},"y":{"field":"v","type":"quantitative","axis":{"values":[93,95],"format":".1f","title":null,"labelFontSize":10}}}}
 ]},
{"width":43,"height":1,"data":{"values":[]},"mark":"point"},
{"width":106,"height":64,"title":{"text":"CIFAR10","dx":26},"data":{"name":"curves"},"transform":[{"filter":{"field":"d","equal":"CIFAR10"}},{"filter":{"field":"m","oneOf":["SL-SNN","STL-SNN"]}}],
 "layer":[
  {"mark":{"type":"area","opacity":0.25,"clip":true},"encoding":{"x":{"field":"e","type":"quantitative","scale":{"domain":[0,150],"nice":false},"axis":null},"y":{"field":"lo","type":"quantitative","scale":{"domain":[56.875,96.875],"nice":false,"zero":false},"axis":{"values":[60,95],"format":".1f","title":null}},"y2":{"field":"hi"},"fill":{"field":"m","type":"nominal","scale":{"domain":["TL-SNN","SL-SNN","STL-SNN"],"range":["#F5B342","#2BB49C","#F04E4E"]},"legend":null}}},
  {"mark":{"type":"line","strokeWidth":1.2,"clip":true},"encoding":{"x":{"field":"e","type":"quantitative","axis":null},"y":{"field":"v","type":"quantitative","axis":{"values":[60,95],"format":".1f","title":null}},"color":{"field":"m","type":"nominal","scale":{"domain":["TL-SNN","SL-SNN","STL-SNN"],"range":["#F5B342","#2BB49C","#F04E4E"]},"legend":null}}}
 ]},
{"width":32,"height":1,"data":{"values":[]},"mark":"point"},
{"width":35,"height":64,"data":{"name":"bars"},"transform":[{"filter":{"field":"d","equal":"CIFAR10"}}],
 "layer":[
  {"mark":{"type":"bar","clip":true},"encoding":{"x":{"field":"m","type":"nominal","scale":{"domain":["TL-SNN","SL-SNN","STL-SNN"],"paddingInner":0.3,"paddingOuter":0.3,"align":0.5},"axis":null},"y":{"field":"v","type":"quantitative","scale":{"domain":[88.64,93.21],"nice":false,"zero":false},"axis":{"values":[89,93],"format":".1f","title":null,"labelFontSize":10}},"color":{"field":"m","type":"nominal","scale":{"domain":["TL-SNN","SL-SNN","STL-SNN"],"range":["#F5B342","#2BB49C","#F04E4E"]},"legend":null}}},
  {"data":{"name":"runs"},"transform":[{"filter":{"field":"d","equal":"CIFAR10"}}],"mark":{"type":"circle","size":4,"color":"#3c4361","opacity":0.85,"clip":true},"encoding":{"x":{"field":"m","type":"nominal","axis":null},"xOffset":{"field":"r","type":"nominal"},"y":{"field":"v","type":"quantitative","axis":{"values":[89,93],"format":".1f","title":null,"labelFontSize":10}}}}
 ]},

{"width":103,"height":42,"data":{"name":"curves"},"transform":[{"filter":{"field":"d","equal":"MNIST"}},{"filter":{"field":"m","equal":"TL-SNN"}}],
 "layer":[
  {"mark":{"type":"area","opacity":0.25,"clip":true},"encoding":{"x":{"field":"e","type":"quantitative","scale":{"domain":[0,100],"nice":false},"axis":{"values":[0,50,100],"title":"Epoch","labelOverlap":false}},"y":{"field":"lo","type":"quantitative","scale":{"domain":[30,65],"nice":false,"zero":false},"axis":{"values":[30,60],"format":".1f","title":null}},"y2":{"field":"hi"},"fill":{"field":"m","type":"nominal","scale":{"domain":["TL-SNN","SL-SNN","STL-SNN"],"range":["#F5B342","#2BB49C","#F04E4E"]},"legend":null}}},
  {"mark":{"type":"line","strokeWidth":1.2,"clip":true},"encoding":{"x":{"field":"e","type":"quantitative","axis":{"values":[0,50,100],"title":"Epoch","labelOverlap":false}},"y":{"field":"v","type":"quantitative","axis":{"values":[30,60],"format":".1f","title":null}},"color":{"field":"m","type":"nominal","scale":{"domain":["TL-SNN","SL-SNN","STL-SNN"],"range":["#F5B342","#2BB49C","#F04E4E"]},"legend":{"title":null}}}},
  {"data":{"values":[{"k":"break"}]},"mark":{"type":"text","text":"//","fontSize":10,"align":"center","baseline":"middle","dy":-5,"color":"#333"},"encoding":{"x":{"datum":0,"type":"quantitative","axis":{"values":[0,50,100],"title":"Epoch","labelOverlap":false}},"y":{"datum":65,"type":"quantitative","axis":{"values":[30,60],"format":".1f","title":null}}}}
 ]},
{"width":30,"height":1,"data":{"values":[]},"mark":"point"},
{"width":39,"height":42,"data":{"name":"bars"},"transform":[{"filter":{"field":"d","equal":"MNIST"}}],
 "layer":[
  {"mark":{"type":"bar","clip":true},"encoding":{"x":{"field":"m","type":"nominal","scale":{"domain":["TL-SNN","SL-SNN","STL-SNN"],"paddingInner":0.25,"paddingOuter":0.5,"align":0.8},"axis":{"labels":false,"ticks":false,"title":null}},"y":{"field":"v","type":"quantitative","scale":{"domain":[40,69.2],"nice":false,"zero":false},"axis":{"values":[40,65],"format":".1f","title":null,"labelFontSize":10}},"color":{"field":"m","type":"nominal","scale":{"domain":["TL-SNN","SL-SNN","STL-SNN"],"range":["#F5B342","#2BB49C","#F04E4E"]},"legend":null}}},
  {"data":{"name":"runs"},"transform":[{"filter":{"field":"d","equal":"MNIST"}}],"mark":{"type":"circle","size":4,"color":"#3c4361","opacity":0.85,"clip":true},"encoding":{"x":{"field":"m","type":"nominal","axis":{"labels":false,"ticks":false,"title":null}},"xOffset":{"field":"r","type":"nominal"},"y":{"field":"v","type":"quantitative","axis":{"values":[40,65],"format":".1f","title":null,"labelFontSize":10}}}},
  {"mark":{"type":"text","angle":270,"align":"left","baseline":"middle","dx":2,"fontSize":6,"color":"white","opacity":0.75},"encoding":{"x":{"field":"m","type":"nominal","axis":{"labels":false,"ticks":false,"title":null}},"y":{"datum":40,"type":"quantitative","axis":{"values":[40,65],"format":".1f","title":null,"labelFontSize":10}},"text":{"field":"v","type":"quantitative","format":".2f"}}},
  {"data":{"values":[{"k":"break"}]},"mark":{"type":"text","text":"//","fontSize":10,"align":"center","baseline":"middle","dy":-5,"dx":-12,"color":"#333"},"encoding":{"x":{"datum":"TL-SNN","type":"nominal","axis":{"labels":false,"ticks":false,"title":null}},"y":{"datum":69.2,"type":"quantitative","axis":{"values":[40,65],"format":".1f","title":null,"labelFontSize":10}}}}
 ]},
{"width":44,"height":1,"data":{"values":[]},"mark":"point"},
{"width":105,"height":42,"data":{"name":"curves"},"transform":[{"filter":{"field":"d","equal":"FMNIST"}},{"filter":{"field":"m","equal":"TL-SNN"}}],
 "layer":[
  {"mark":{"type":"area","opacity":0.25,"clip":true},"encoding":{"x":{"field":"e","type":"quantitative","scale":{"domain":[0,100],"nice":false},"axis":{"values":[0,50,100],"title":"Epoch","labelOverlap":false}},"y":{"field":"lo","type":"quantitative","scale":{"domain":[30,62.3],"nice":false,"zero":false},"axis":{"values":[30,60],"format":".1f","title":null}},"y2":{"field":"hi"},"fill":{"field":"m","type":"nominal","scale":{"domain":["TL-SNN","SL-SNN","STL-SNN"],"range":["#F5B342","#2BB49C","#F04E4E"]},"legend":null}}},
  {"mark":{"type":"line","strokeWidth":1.2,"clip":true},"encoding":{"x":{"field":"e","type":"quantitative","axis":{"values":[0,50,100],"title":"Epoch","labelOverlap":false}},"y":{"field":"v","type":"quantitative","axis":{"values":[30,60],"format":".1f","title":null}},"color":{"field":"m","type":"nominal","scale":{"domain":["TL-SNN","SL-SNN","STL-SNN"],"range":["#F5B342","#2BB49C","#F04E4E"]},"legend":{"title":null}}}},
  {"data":{"values":[{"k":"break"}]},"mark":{"type":"text","text":"//","fontSize":10,"align":"center","baseline":"middle","dy":-5,"color":"#333"},"encoding":{"x":{"datum":0,"type":"quantitative","axis":{"values":[0,50,100],"title":"Epoch","labelOverlap":false}},"y":{"datum":62.3,"type":"quantitative","axis":{"values":[30,60],"format":".1f","title":null}}}}
 ]},
{"width":34,"height":1,"data":{"values":[]},"mark":"point"},
{"width":34,"height":42,"data":{"name":"bars"},"transform":[{"filter":{"field":"d","equal":"FMNIST"}}],
 "layer":[
  {"mark":{"type":"bar","clip":true},"encoding":{"x":{"field":"m","type":"nominal","scale":{"domain":["TL-SNN","SL-SNN","STL-SNN"],"paddingInner":0.3,"paddingOuter":0.3,"align":0.5},"axis":{"labels":false,"ticks":false,"title":null}},"y":{"field":"v","type":"quantitative","scale":{"domain":[40,61.5],"nice":false,"zero":false},"axis":{"values":[40,60],"format":".1f","title":null,"labelFontSize":10}},"color":{"field":"m","type":"nominal","scale":{"domain":["TL-SNN","SL-SNN","STL-SNN"],"range":["#F5B342","#2BB49C","#F04E4E"]},"legend":null}}},
  {"data":{"name":"runs"},"transform":[{"filter":{"field":"d","equal":"FMNIST"}}],"mark":{"type":"circle","size":4,"color":"#3c4361","opacity":0.85,"clip":true},"encoding":{"x":{"field":"m","type":"nominal","axis":{"labels":false,"ticks":false,"title":null}},"xOffset":{"field":"r","type":"nominal"},"y":{"field":"v","type":"quantitative","axis":{"values":[40,60],"format":".1f","title":null,"labelFontSize":10}}}},
  {"mark":{"type":"text","angle":270,"align":"left","baseline":"middle","dx":2,"fontSize":6,"color":"white","opacity":0.75},"encoding":{"x":{"field":"m","type":"nominal","axis":{"labels":false,"ticks":false,"title":null}},"y":{"datum":40,"type":"quantitative","axis":{"values":[40,60],"format":".1f","title":null,"labelFontSize":10}},"text":{"field":"v","type":"quantitative","format":".2f"}}},
  {"data":{"values":[{"k":"break"}]},"mark":{"type":"text","text":"//","fontSize":10,"align":"center","baseline":"middle","dy":-5,"dx":-6.5,"color":"#333"},"encoding":{"x":{"datum":"TL-SNN","type":"nominal","axis":{"labels":false,"ticks":false,"title":null}},"y":{"datum":61.5,"type":"quantitative","axis":{"values":[40,60],"format":".1f","title":null,"labelFontSize":10}}}}
 ]},
{"width":43,"height":1,"data":{"values":[]},"mark":"point"},
{"width":106,"height":42,"data":{"name":"curves"},"transform":[{"filter":{"field":"d","equal":"CIFAR10"}},{"filter":{"field":"m","equal":"TL-SNN"}}],
 "layer":[
  {"mark":{"type":"area","opacity":0.25,"clip":true},"encoding":{"x":{"field":"e","type":"quantitative","scale":{"domain":[0,150],"nice":false},"axis":{"values":[0,50,100,150],"title":"Epoch","labelOverlap":false}},"y":{"field":"lo","type":"quantitative","scale":{"domain":[0,43.1],"nice":false,"zero":false},"axis":{"values":[0,40],"format":".1f","labelExpr":"datum.value == 0 ? '0' : datum.label","title":null}},"y2":{"field":"hi"},"fill":{"field":"m","type":"nominal","scale":{"domain":["TL-SNN","SL-SNN","STL-SNN"],"range":["#F5B342","#2BB49C","#F04E4E"]},"legend":null}}},
  {"mark":{"type":"line","strokeWidth":1.2,"clip":true},"encoding":{"x":{"field":"e","type":"quantitative","axis":{"values":[0,50,100,150],"title":"Epoch","labelOverlap":false}},"y":{"field":"v","type":"quantitative","axis":{"values":[0,40],"format":".1f","labelExpr":"datum.value == 0 ? '0' : datum.label","title":null}},"color":{"field":"m","type":"nominal","scale":{"domain":["TL-SNN","SL-SNN","STL-SNN"],"range":["#F5B342","#2BB49C","#F04E4E"]},"legend":{"title":null}}}},
  {"data":{"values":[{"k":"break"}]},"mark":{"type":"text","text":"//","fontSize":10,"align":"center","baseline":"middle","dy":-5,"color":"#333"},"encoding":{"x":{"datum":0,"type":"quantitative","axis":{"values":[0,50,100,150],"title":"Epoch","labelOverlap":false}},"y":{"datum":43.1,"type":"quantitative","axis":{"values":[0,40],"format":".1f","labelExpr":"datum.value == 0 ? '0' : datum.label","title":null}}}}
 ]},
{"width":32,"height":1,"data":{"values":[]},"mark":"point"},
{"width":35,"height":42,"data":{"name":"bars"},"transform":[{"filter":{"field":"d","equal":"CIFAR10"}}],
 "layer":[
  {"mark":{"type":"bar","clip":true},"encoding":{"x":{"field":"m","type":"nominal","scale":{"domain":["TL-SNN","SL-SNN","STL-SNN"],"paddingInner":0.3,"paddingOuter":0.3,"align":0.5},"axis":{"labels":false,"ticks":false,"title":null}},"y":{"field":"v","type":"quantitative","scale":{"domain":[30,39.7],"nice":false,"zero":false},"axis":{"values":[30,39],"format":".1f","title":null,"labelFontSize":10}},"color":{"field":"m","type":"nominal","scale":{"domain":["TL-SNN","SL-SNN","STL-SNN"],"range":["#F5B342","#2BB49C","#F04E4E"]},"legend":null}}},
  {"data":{"name":"runs"},"transform":[{"filter":{"field":"d","equal":"CIFAR10"}}],"mark":{"type":"circle","size":4,"color":"#3c4361","opacity":0.85,"clip":true},"encoding":{"x":{"field":"m","type":"nominal","axis":{"labels":false,"ticks":false,"title":null}},"xOffset":{"field":"r","type":"nominal"},"y":{"field":"v","type":"quantitative","axis":{"values":[30,39],"format":".1f","title":null,"labelFontSize":10}}}},
  {"mark":{"type":"text","angle":270,"align":"left","baseline":"middle","dx":2,"fontSize":6,"color":"white","opacity":0.75},"encoding":{"x":{"field":"m","type":"nominal","axis":{"labels":false,"ticks":false,"title":null}},"y":{"datum":30,"type":"quantitative","axis":{"values":[30,39],"format":".1f","title":null,"labelFontSize":10}},"text":{"field":"v","type":"quantitative","format":".2f"}}},
  {"data":{"values":[{"k":"break"}]},"mark":{"type":"text","text":"//","fontSize":10,"align":"center","baseline":"middle","dy":-5,"dx":-6.5,"color":"#333"},"encoding":{"x":{"datum":"TL-SNN","type":"nominal","axis":{"labels":false,"ticks":false,"title":null}},"y":{"datum":39.7,"type":"quantitative","axis":{"values":[30,39],"format":".1f","title":null,"labelFontSize":10}}}}
 ]},

{"width":1,"height":69,"data":{"values":[]},"mark":"point"},
{"width":1,"height":69,"data":{"values":[]},"mark":"point"},
{"width":1,"height":69,"data":{"values":[]},"mark":"point"},
{"width":1,"height":69,"data":{"values":[]},"mark":"point"},
{"width":1,"height":69,"data":{"values":[]},"mark":"point"},
{"width":1,"height":69,"data":{"values":[]},"mark":"point"},
{"width":1,"height":69,"data":{"values":[]},"mark":"point"},
{"width":1,"height":69,"data":{"values":[]},"mark":"point"},
{"width":1,"height":69,"data":{"values":[]},"mark":"point"},
{"width":1,"height":69,"data":{"values":[]},"mark":"point"},
{"width":1,"height":69,"data":{"values":[]},"mark":"point"},

{"width":103,"height":64,"title":{"text":"MNIST-DVS","dx":26},"data":{"name":"curves"},"transform":[{"filter":{"field":"d","equal":"MDVS"}},{"filter":{"field":"m","oneOf":["SL-SNN","STL-SNN"]}}],
 "layer":[
  {"mark":{"type":"area","opacity":0.25,"clip":true},"encoding":{"x":{"field":"e","type":"quantitative","scale":{"domain":[0,100],"nice":false},"axis":null},"y":{"field":"lo","type":"quantitative","scale":{"domain":[94.64,99.21],"nice":false,"zero":false},"axis":{"values":[95,99],"format":".1f","title":"Acc (%)","titleX":-23,"titleY":60,"titleAngle":270,"titleAlign":"center","titleBaseline":"alphabetic"}},"y2":{"field":"hi"},"fill":{"field":"m","type":"nominal","scale":{"domain":["TL-SNN","SL-SNN","STL-SNN"],"range":["#F5B342","#2BB49C","#F04E4E"]},"legend":null}}},
  {"mark":{"type":"line","strokeWidth":1.2,"clip":true},"encoding":{"x":{"field":"e","type":"quantitative","axis":null},"y":{"field":"v","type":"quantitative","axis":{"values":[95,99],"format":".1f","title":"Acc (%)","titleX":-23,"titleY":60,"titleAngle":270,"titleAlign":"center","titleBaseline":"alphabetic"}},"color":{"field":"m","type":"nominal","scale":{"domain":["TL-SNN","SL-SNN","STL-SNN"],"range":["#F5B342","#2BB49C","#F04E4E"]},"legend":null}}}
 ]},
{"width":30,"height":1,"data":{"values":[]},"mark":"point"},
{"width":39,"height":64,"data":{"name":"bars"},"transform":[{"filter":{"field":"d","equal":"MDVS"}}],
 "layer":[
  {"mark":{"type":"bar","clip":true},"encoding":{"x":{"field":"m","type":"nominal","scale":{"domain":["TL-SNN","SL-SNN","STL-SNN"],"paddingInner":0.25,"paddingOuter":0.5,"align":0.8},"axis":null},"y":{"field":"v","type":"quantitative","scale":{"domain":[97.91,99.054],"nice":false,"zero":false},"axis":{"values":[98,99],"format":".1f","title":null,"labelFontSize":10}},"color":{"field":"m","type":"nominal","scale":{"domain":["TL-SNN","SL-SNN","STL-SNN"],"range":["#F5B342","#2BB49C","#F04E4E"]},"legend":null}}},
  {"data":{"name":"runs"},"transform":[{"filter":{"field":"d","equal":"MDVS"}}],"mark":{"type":"circle","size":4,"color":"#3c4361","opacity":0.85,"clip":true},"encoding":{"x":{"field":"m","type":"nominal","axis":null},"xOffset":{"field":"r","type":"nominal"},"y":{"field":"v","type":"quantitative","axis":{"values":[98,99],"format":".1f","title":null,"labelFontSize":10}}}}
 ]},
{"width":44,"height":1,"data":{"values":[]},"mark":"point"},
{"width":105,"height":64,"title":{"text":"CIFAR10-DVS","dx":24},"data":{"name":"curves"},"transform":[{"filter":{"field":"d","equal":"CDVS"}},{"filter":{"field":"m","oneOf":["SL-SNN","STL-SNN"]}}],
 "layer":[
  {"mark":{"type":"area","opacity":0.25,"clip":true},"encoding":{"x":{"field":"e","type":"quantitative","scale":{"domain":[0,250],"nice":false},"axis":null},"y":{"field":"lo","type":"quantitative","scale":{"domain":[63.84,78.7],"nice":false,"zero":false},"axis":{"values":[65,78],"format":".1f","title":null}},"y2":{"field":"hi"},"fill":{"field":"m","type":"nominal","scale":{"domain":["TL-SNN","SL-SNN","STL-SNN"],"range":["#F5B342","#2BB49C","#F04E4E"]},"legend":null}}},
  {"mark":{"type":"line","strokeWidth":1.2,"clip":true},"encoding":{"x":{"field":"e","type":"quantitative","axis":null},"y":{"field":"v","type":"quantitative","axis":{"values":[65,78],"format":".1f","title":null}},"color":{"field":"m","type":"nominal","scale":{"domain":["TL-SNN","SL-SNN","STL-SNN"],"range":["#F5B342","#2BB49C","#F04E4E"]},"legend":null}}}
 ]},
{"width":34,"height":1,"data":{"values":[]},"mark":"point"},
{"width":34,"height":64,"data":{"name":"bars"},"transform":[{"filter":{"field":"d","equal":"CDVS"}}],
 "layer":[
  {"mark":{"type":"bar","clip":true},"encoding":{"x":{"field":"m","type":"nominal","scale":{"domain":["TL-SNN","SL-SNN","STL-SNN"],"paddingInner":0.3,"paddingOuter":0.3,"align":0.5},"axis":null},"y":{"field":"v","type":"quantitative","scale":{"domain":[74.73,78.16],"nice":false,"zero":false},"axis":{"values":[75,78],"format":".1f","title":null,"labelFontSize":10}},"color":{"field":"m","type":"nominal","scale":{"domain":["TL-SNN","SL-SNN","STL-SNN"],"range":["#F5B342","#2BB49C","#F04E4E"]},"legend":null}}},
  {"data":{"name":"runs"},"transform":[{"filter":{"field":"d","equal":"CDVS"}}],"mark":{"type":"circle","size":4,"color":"#3c4361","opacity":0.85,"clip":true},"encoding":{"x":{"field":"m","type":"nominal","axis":null},"xOffset":{"field":"r","type":"nominal"},"y":{"field":"v","type":"quantitative","axis":{"values":[75,78],"format":".1f","title":null,"labelFontSize":10}}}}
 ]},
{"width":43,"height":1,"data":{"values":[]},"mark":"point"},
{"width":106,"height":64,"title":{"text":"DVS-Gesture","dx":26},"data":{"name":"curves"},"transform":[{"filter":{"field":"d","equal":"GEST"}},{"filter":{"field":"m","oneOf":["SL-SNN","STL-SNN"]}}],
 "layer":[
  {"mark":{"type":"area","opacity":0.25,"clip":true},"encoding":{"x":{"field":"e","type":"quantitative","scale":{"domain":[0,250],"nice":false},"axis":null},"y":{"field":"lo","type":"quantitative","scale":{"domain":[83.84,98.7],"nice":false,"zero":false},"axis":{"values":[85,98],"format":".1f","title":null}},"y2":{"field":"hi"},"fill":{"field":"m","type":"nominal","scale":{"domain":["TL-SNN","SL-SNN","STL-SNN"],"range":["#F5B342","#2BB49C","#F04E4E"]},"legend":null}}},
  {"mark":{"type":"line","strokeWidth":1.2,"clip":true},"encoding":{"x":{"field":"e","type":"quantitative","axis":null},"y":{"field":"v","type":"quantitative","axis":{"values":[85,98],"format":".1f","title":null}},"color":{"field":"m","type":"nominal","scale":{"domain":["TL-SNN","SL-SNN","STL-SNN"],"range":["#F5B342","#2BB49C","#F04E4E"]},"legend":null}}}
 ]},
{"width":32,"height":1,"data":{"values":[]},"mark":"point"},
{"width":35,"height":64,"data":{"name":"bars"},"transform":[{"filter":{"field":"d","equal":"GEST"}}],
 "layer":[
  {"mark":{"type":"bar","clip":true},"encoding":{"x":{"field":"m","type":"nominal","scale":{"domain":["TL-SNN","SL-SNN","STL-SNN"],"paddingInner":0.3,"paddingOuter":0.3,"align":0.5},"axis":null},"y":{"field":"v","type":"quantitative","scale":{"domain":[93.64,98.21],"nice":false,"zero":false},"axis":{"values":[94,98],"format":".1f","title":null,"labelFontSize":10}},"color":{"field":"m","type":"nominal","scale":{"domain":["TL-SNN","SL-SNN","STL-SNN"],"range":["#F5B342","#2BB49C","#F04E4E"]},"legend":null}}},
  {"data":{"name":"runs"},"transform":[{"filter":{"field":"d","equal":"GEST"}}],"mark":{"type":"circle","size":4,"color":"#3c4361","opacity":0.85,"clip":true},"encoding":{"x":{"field":"m","type":"nominal","axis":null},"xOffset":{"field":"r","type":"nominal"},"y":{"field":"v","type":"quantitative","axis":{"values":[94,98],"format":".1f","title":null,"labelFontSize":10}}}}
 ]},

{"width":103,"height":42,"data":{"name":"curves"},"transform":[{"filter":{"field":"d","equal":"MDVS"}},{"filter":{"field":"m","equal":"TL-SNN"}}],
 "layer":[
  {"mark":{"type":"area","opacity":0.25,"clip":true},"encoding":{"x":{"field":"e","type":"quantitative","scale":{"domain":[0,100],"nice":false},"axis":{"values":[0,50,100],"title":"Epoch","labelOverlap":false}},"y":{"field":"lo","type":"quantitative","scale":{"domain":[10,42.3],"nice":false,"zero":false},"axis":{"values":[10,40],"format":".1f","title":null}},"y2":{"field":"hi"},"fill":{"field":"m","type":"nominal","scale":{"domain":["TL-SNN","SL-SNN","STL-SNN"],"range":["#F5B342","#2BB49C","#F04E4E"]},"legend":null}}},
  {"mark":{"type":"line","strokeWidth":1.2,"clip":true},"encoding":{"x":{"field":"e","type":"quantitative","axis":{"values":[0,50,100],"title":"Epoch","labelOverlap":false}},"y":{"field":"v","type":"quantitative","axis":{"values":[10,40],"format":".1f","title":null}},"color":{"field":"m","type":"nominal","scale":{"domain":["TL-SNN","SL-SNN","STL-SNN"],"range":["#F5B342","#2BB49C","#F04E4E"]},"legend":{"title":null}}}},
  {"data":{"values":[{"k":"break"}]},"mark":{"type":"text","text":"//","fontSize":10,"align":"center","baseline":"middle","dy":-5,"color":"#333"},"encoding":{"x":{"datum":0,"type":"quantitative","axis":{"values":[0,50,100],"title":"Epoch","labelOverlap":false}},"y":{"datum":42.3,"type":"quantitative","axis":{"values":[10,40],"format":".1f","title":null}}}}
 ]},
{"width":30,"height":1,"data":{"values":[]},"mark":"point"},
{"width":39,"height":42,"data":{"name":"bars"},"transform":[{"filter":{"field":"d","equal":"MDVS"}}],
 "layer":[
  {"mark":{"type":"bar","clip":true},"encoding":{"x":{"field":"m","type":"nominal","scale":{"domain":["TL-SNN","SL-SNN","STL-SNN"],"paddingInner":0.25,"paddingOuter":0.5,"align":0.8},"axis":{"labels":false,"ticks":false,"title":null}},"y":{"field":"v","type":"quantitative","scale":{"domain":[10,42.3],"nice":false,"zero":false},"axis":{"values":[10,40],"format":".1f","title":null,"labelFontSize":10}},"color":{"field":"m","type":"nominal","scale":{"domain":["TL-SNN","SL-SNN","STL-SNN"],"range":["#F5B342","#2BB49C","#F04E4E"]},"legend":null}}},
  {"data":{"name":"runs"},"transform":[{"filter":{"field":"d","equal":"MDVS"}}],"mark":{"type":"circle","size":4,"color":"#3c4361","opacity":0.85,"clip":true},"encoding":{"x":{"field":"m","type":"nominal","axis":{"labels":false,"ticks":false,"title":null}},"xOffset":{"field":"r","type":"nominal"},"y":{"field":"v","type":"quantitative","axis":{"values":[10,40],"format":".1f","title":null,"labelFontSize":10}}}},
  {"mark":{"type":"text","angle":270,"align":"left","baseline":"middle","dx":2,"fontSize":6,"color":"white","opacity":0.75},"encoding":{"x":{"field":"m","type":"nominal","axis":{"labels":false,"ticks":false,"title":null}},"y":{"datum":10,"type":"quantitative","axis":{"values":[10,40],"format":".1f","title":null,"labelFontSize":10}},"text":{"field":"v","type":"quantitative","format":".2f"}}},
  {"data":{"values":[{"k":"break"}]},"mark":{"type":"text","text":"//","fontSize":10,"align":"center","baseline":"middle","dy":-5,"dx":-12,"color":"#333"},"encoding":{"x":{"datum":"TL-SNN","type":"nominal","axis":{"labels":false,"ticks":false,"title":null}},"y":{"datum":42.3,"type":"quantitative","axis":{"values":[10,40],"format":".1f","title":null,"labelFontSize":10}}}}
 ]},
{"width":44,"height":1,"data":{"values":[]},"mark":"point"},
{"width":105,"height":42,"data":{"name":"curves"},"transform":[{"filter":{"field":"d","equal":"CDVS"}},{"filter":{"field":"m","equal":"TL-SNN"}}],
 "layer":[
  {"mark":{"type":"area","opacity":0.25,"clip":true},"encoding":{"x":{"field":"e","type":"quantitative","scale":{"domain":[0,250],"nice":false},"axis":{"values":[0,50,100,150,200,250],"title":"Epoch","labelOverlap":false,"labelFontSize":9}},"y":{"field":"lo","type":"quantitative","scale":{"domain":[10,31.5],"nice":false,"zero":false},"axis":{"values":[10,30],"format":".1f","title":null}},"y2":{"field":"hi"},"fill":{"field":"m","type":"nominal","scale":{"domain":["TL-SNN","SL-SNN","STL-SNN"],"range":["#F5B342","#2BB49C","#F04E4E"]},"legend":null}}},
  {"mark":{"type":"line","strokeWidth":1.2,"clip":true},"encoding":{"x":{"field":"e","type":"quantitative","axis":{"values":[0,50,100,150,200,250],"title":"Epoch","labelOverlap":false,"labelFontSize":9}},"y":{"field":"v","type":"quantitative","axis":{"values":[10,30],"format":".1f","title":null}},"color":{"field":"m","type":"nominal","scale":{"domain":["TL-SNN","SL-SNN","STL-SNN"],"range":["#F5B342","#2BB49C","#F04E4E"]},"legend":{"title":null}}}},
  {"data":{"values":[{"k":"break"}]},"mark":{"type":"text","text":"//","fontSize":10,"align":"center","baseline":"middle","dy":-5,"color":"#333"},"encoding":{"x":{"datum":0,"type":"quantitative","axis":{"values":[0,50,100,150,200,250],"title":"Epoch","labelOverlap":false,"labelFontSize":9}},"y":{"datum":31.5,"type":"quantitative","axis":{"values":[10,30],"format":".1f","title":null}}}}
 ]},
{"width":34,"height":1,"data":{"values":[]},"mark":"point"},
{"width":34,"height":42,"data":{"name":"bars"},"transform":[{"filter":{"field":"d","equal":"CDVS"}}],
 "layer":[
  {"mark":{"type":"bar","clip":true},"encoding":{"x":{"field":"m","type":"nominal","scale":{"domain":["TL-SNN","SL-SNN","STL-SNN"],"paddingInner":0.3,"paddingOuter":0.3,"align":0.5},"axis":{"labels":false,"ticks":false,"title":null}},"y":{"field":"v","type":"quantitative","scale":{"domain":[20,32.9],"nice":false,"zero":false},"axis":{"values":[20,32],"format":".1f","title":null,"labelFontSize":10}},"color":{"field":"m","type":"nominal","scale":{"domain":["TL-SNN","SL-SNN","STL-SNN"],"range":["#F5B342","#2BB49C","#F04E4E"]},"legend":null}}},
  {"data":{"name":"runs"},"transform":[{"filter":{"field":"d","equal":"CDVS"}}],"mark":{"type":"circle","size":4,"color":"#3c4361","opacity":0.85,"clip":true},"encoding":{"x":{"field":"m","type":"nominal","axis":{"labels":false,"ticks":false,"title":null}},"xOffset":{"field":"r","type":"nominal"},"y":{"field":"v","type":"quantitative","axis":{"values":[20,32],"format":".1f","title":null,"labelFontSize":10}}}},
  {"mark":{"type":"text","angle":270,"align":"left","baseline":"middle","dx":2,"fontSize":6,"color":"white","opacity":0.75},"encoding":{"x":{"field":"m","type":"nominal","axis":{"labels":false,"ticks":false,"title":null}},"y":{"datum":20,"type":"quantitative","axis":{"values":[20,32],"format":".1f","title":null,"labelFontSize":10}},"text":{"field":"v","type":"quantitative","format":".2f"}}},
  {"data":{"values":[{"k":"break"}]},"mark":{"type":"text","text":"//","fontSize":10,"align":"center","baseline":"middle","dy":-5,"dx":-6.5,"color":"#333"},"encoding":{"x":{"datum":"TL-SNN","type":"nominal","axis":{"labels":false,"ticks":false,"title":null}},"y":{"datum":32.9,"type":"quantitative","axis":{"values":[20,32],"format":".1f","title":null,"labelFontSize":10}}}}
 ]},
{"width":43,"height":1,"data":{"values":[]},"mark":"point"},
{"width":106,"height":42,"data":{"name":"curves"},"transform":[{"filter":{"field":"d","equal":"GEST"}},{"filter":{"field":"m","equal":"TL-SNN"}}],
 "layer":[
  {"mark":{"type":"area","opacity":0.25,"clip":true},"encoding":{"x":{"field":"e","type":"quantitative","scale":{"domain":[0,250],"nice":false},"axis":{"values":[0,50,100,150,200,250],"title":"Epoch","labelOverlap":false,"labelFontSize":9}},"y":{"field":"lo","type":"quantitative","scale":{"domain":[10,42.3],"nice":false,"zero":false},"axis":{"values":[10,40],"format":".1f","title":null}},"y2":{"field":"hi"},"fill":{"field":"m","type":"nominal","scale":{"domain":["TL-SNN","SL-SNN","STL-SNN"],"range":["#F5B342","#2BB49C","#F04E4E"]},"legend":null}}},
  {"mark":{"type":"line","strokeWidth":1.2,"clip":true},"encoding":{"x":{"field":"e","type":"quantitative","axis":{"values":[0,50,100,150,200,250],"title":"Epoch","labelOverlap":false,"labelFontSize":9}},"y":{"field":"v","type":"quantitative","axis":{"values":[10,40],"format":".1f","title":null}},"color":{"field":"m","type":"nominal","scale":{"domain":["TL-SNN","SL-SNN","STL-SNN"],"range":["#F5B342","#2BB49C","#F04E4E"]},"legend":{"title":null}}}},
  {"data":{"values":[{"k":"break"}]},"mark":{"type":"text","text":"//","fontSize":10,"align":"center","baseline":"middle","dy":-5,"color":"#333"},"encoding":{"x":{"datum":0,"type":"quantitative","axis":{"values":[0,50,100,150,200,250],"title":"Epoch","labelOverlap":false,"labelFontSize":9}},"y":{"datum":42.3,"type":"quantitative","axis":{"values":[10,40],"format":".1f","title":null}}}}
 ]},
{"width":32,"height":1,"data":{"values":[]},"mark":"point"},
{"width":35,"height":42,"data":{"name":"bars"},"transform":[{"filter":{"field":"d","equal":"GEST"}}],
 "layer":[
  {"mark":{"type":"bar","clip":true},"encoding":{"x":{"field":"m","type":"nominal","scale":{"domain":["TL-SNN","SL-SNN","STL-SNN"],"paddingInner":0.3,"paddingOuter":0.3,"align":0.5},"axis":{"labels":false,"ticks":false,"title":null}},"y":{"field":"v","type":"quantitative","scale":{"domain":[20,41.5],"nice":false,"zero":false},"axis":{"values":[20,40],"format":".1f","title":null,"labelFontSize":10}},"color":{"field":"m","type":"nominal","scale":{"domain":["TL-SNN","SL-SNN","STL-SNN"],"range":["#F5B342","#2BB49C","#F04E4E"]},"legend":null}}},
  {"data":{"name":"runs"},"transform":[{"filter":{"field":"d","equal":"GEST"}}],"mark":{"type":"circle","size":4,"color":"#3c4361","opacity":0.85,"clip":true},"encoding":{"x":{"field":"m","type":"nominal","axis":{"labels":false,"ticks":false,"title":null}},"xOffset":{"field":"r","type":"nominal"},"y":{"field":"v","type":"quantitative","axis":{"values":[20,40],"format":".1f","title":null,"labelFontSize":10}}}},
  {"mark":{"type":"text","angle":270,"align":"left","baseline":"middle","dx":2,"fontSize":6,"color":"white","opacity":0.75},"encoding":{"x":{"field":"m","type":"nominal","axis":{"labels":false,"ticks":false,"title":null}},"y":{"datum":20,"type":"quantitative","axis":{"values":[20,40],"format":".1f","title":null,"labelFontSize":10}},"text":{"field":"v","type":"quantitative","format":".2f"}}},
  {"data":{"values":[{"k":"break"}]},"mark":{"type":"text","text":"//","fontSize":10,"align":"center","baseline":"middle","dy":-5,"dx":-6.5,"color":"#333"},"encoding":{"x":{"datum":"TL-SNN","type":"nominal","axis":{"labels":false,"ticks":false,"title":null}},"y":{"datum":41.5,"type":"quantitative","axis":{"values":[20,40],"format":".1f","title":null,"labelFontSize":10}}}}
 ]}
],
"config": {
 "view": {"stroke": null},
 "font": "Liberation Sans",
 "axis": {"labelFont": "Liberation Sans", "labelFontSize": 11, "labelColor": "#222", "domainColor": "#333", "domainWidth": 1, "tickColor": "#333", "tickSize": 3, "labelPadding": 1.5, "grid": false, "titleFont": "Liberation Sans", "titleFontSize": 11, "titleFontWeight": "normal", "titleColor": "#222", "titlePadding": 3, "labelOverlap": false},
 "title": {"font": "Liberation Sans", "fontSize": 12, "fontWeight": "bold", "color": "#111", "offset": 10, "anchor": "middle"},
 "legend": {"orient": "bottom-right", "offset": 3, "symbolType": "stroke", "symbolSize": 64, "symbolStrokeWidth": 1.5, "labelFontSize": 5, "labelFont": "Liberation Sans", "labelColor": "#333", "rowPadding": 0, "labelOffset": 7, "padding": 0}
}
}
